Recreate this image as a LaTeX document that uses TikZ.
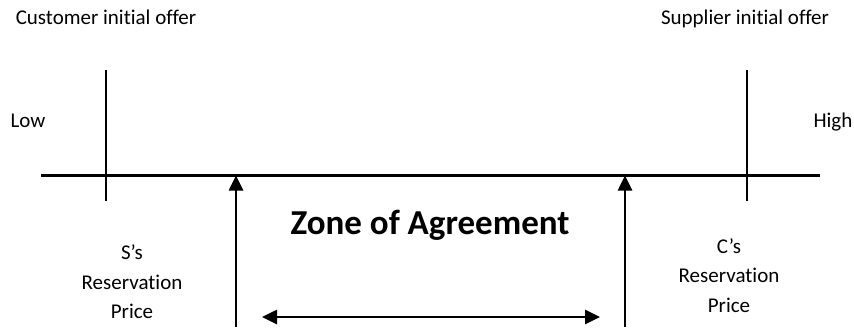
\documentclass[tikz,border=0pt]{standalone}
\usepackage{fontspec}
\setmainfont[Ligatures=CommonOff]{Carlito}
\usetikzlibrary{arrows.meta}
\begin{document}
\begin{tikzpicture}[x=1pt,y=-1pt,
  lbl/.style={font=\fontsize{21}{24}\selectfont, inner sep=0pt, anchor=base},
  res/.style={font=\fontsize{21}{29.5}\selectfont, inner sep=0pt, align=center},
  tick/.style={line width=1.6pt},
  axis/.style={line width=3pt},
  zarrow/.style={line width=2.6pt, -{Triangle[width=14pt,length=15pt]}},
  darrow/.style={line width=2.6pt, {Triangle[width=14pt,length=15pt]}-{Triangle[width=14pt,length=15pt]}}]
\useasboundingbox (0,0) rectangle (854,327);
% labels
\node[lbl] (cust) at (106,24.5) {Customer initial offer};
\node[lbl] (supp) at (745,24.5) {Supplier initial offer};
\node[lbl] (low) at (28,127) {Low};
\node[lbl] (high) at (833,127) {High};
% axis
\coordinate (axL) at (41,175);
\coordinate (axR) at (820,175);
\draw[axis] (axL) -- (axR);
% ticks
\coordinate (t1a) at (106,70); \coordinate (t1b) at (106,201);
\coordinate (t2a) at (747,70); \coordinate (t2b) at (747,201);
\draw[tick] (t1a) -- (t1b);
\draw[tick] (t2a) -- (t2b);
% reservation arrows
\coordinate (a1b) at (236,327); \coordinate (a1t) at (236,175.5);
\coordinate (a2b) at (625,327); \coordinate (a2t) at (625,175.5);
\draw[zarrow] (a1b) -- (a1t);
\draw[zarrow] (a2b) -- (a2t);
% zone
\node[inner sep=0pt, anchor=base, font=\fontsize{35}{40}\selectfont\bfseries] (zone) at (430,234) {Zone of Agreement};
\coordinate (dL) at (262,317); \coordinate (dR) at (600,317);
\draw[darrow] (dL) -- (dR);
% reservation labels
\node[res] (sres) at (132,282) {S’s\\Reservation\\Price};
\node[res] (cres) at (729,275.5) {C’s\\Reservation\\Price};
\end{tikzpicture}
\end{document}
